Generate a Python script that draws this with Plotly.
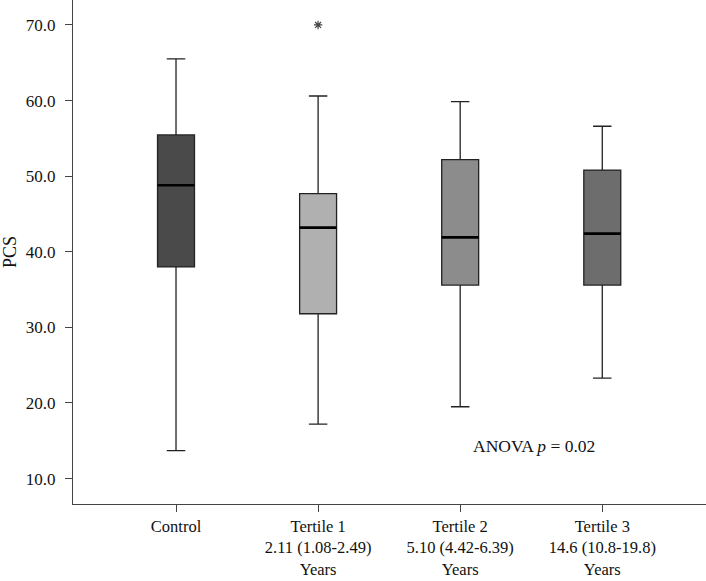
import plotly.graph_objects as go

categories = ["Control", "Tertile 1<br>2.11 (1.08-2.49)<br>Years",
              "Tertile 2<br>5.10 (4.42-6.39)<br>Years",
              "Tertile 3<br>14.6 (10.8-19.8)<br>Years"]
lower_whisker = [13.7, 17.2, 19.5, 23.3]
q1_vals = [38.0, 31.8, 35.6, 35.6]
median_vals = [48.8, 43.2, 41.9, 42.4]
q3_vals = [55.45, 47.7, 52.2, 50.8]
upper_whisker = [65.5, 60.6, 59.85, 56.6]
outlier_group = [1]
outlier_vals = [70.0]
fill_colors = ["#4a4a4a", "#b0b0b0", "#8c8c8c", "#6d6d6d"]

FONT = "Liberation Serif, Times New Roman, serif"
BOX_W = 0.26
positions = list(range(len(categories)))

fig = go.Figure()
for i in positions:
    fig.add_trace(go.Box(
        x=[i], q1=[q1_vals[i]], median=[median_vals[i]], q3=[q3_vals[i]],
        lowerfence=[lower_whisker[i]], upperfence=[upper_whisker[i]],
        fillcolor=fill_colors[i], line=dict(color="#222222", width=1.3),
        width=BOX_W, whiskerwidth=0.5, boxpoints=False, showlegend=False,
        hoverinfo="skip"))
    fig.add_shape(type="line", xref="x", yref="y",
                  x0=i - BOX_W / 2, x1=i + BOX_W / 2,
                  y0=median_vals[i], y1=median_vals[i],
                  line=dict(color="#000000", width=2.6))

fig.add_trace(go.Scatter(
    x=outlier_group, y=outlier_vals, mode="markers",
    marker=dict(symbol="asterisk-open", size=7, color="#444444",
                line=dict(color="#444444", width=1.2)),
    showlegend=False, hoverinfo="skip"))

fig.add_annotation(x=2.52, y=14.35, xref="x", yref="y",
                   text="ANOVA <i>p</i> = 0.02", showarrow=False,
                   font=dict(family=FONT, size=17.5, color="#111111"))

fig.update_layout(
    width=706, height=581,
    margin=dict(l=73, r=0, t=0, b=77, autoexpand=False),
    plot_bgcolor="white", paper_bgcolor="white",
    font=dict(family=FONT, size=17, color="#111111"),
    xaxis=dict(range=[-0.725, 3.73], tickvals=positions, ticktext=categories,
               tickfont=dict(family=FONT, size=16.5, color="#111111"),
               showline=True, linecolor="#444444", linewidth=1.3,
               ticks="outside", ticklen=7, tickcolor="#444444", tickwidth=1.3,
               showgrid=False, zeroline=False, ticklabelstandoff=0,
               automargin=False),
    yaxis=dict(range=[6.64, 73.3], dtick=10, tick0=10, tickformat=".1f",
               tickfont=dict(family=FONT, size=17, color="#111111"),
               showline=True, linecolor="#444444", linewidth=1.3,
               ticks="outside", ticklen=7, tickcolor="#444444", tickwidth=1.3,
               showgrid=False, zeroline=False, ticklabelstandoff=6,
               automargin=False,
               title=dict(text="PCS", standoff=5,
                          font=dict(family=FONT, size=18, color="#111111"))),
)

fig.write_html("out.html", config={"displayModeBar": False},
               post_script="document.body.style.margin='0';document.body.style.overflow='hidden';")
